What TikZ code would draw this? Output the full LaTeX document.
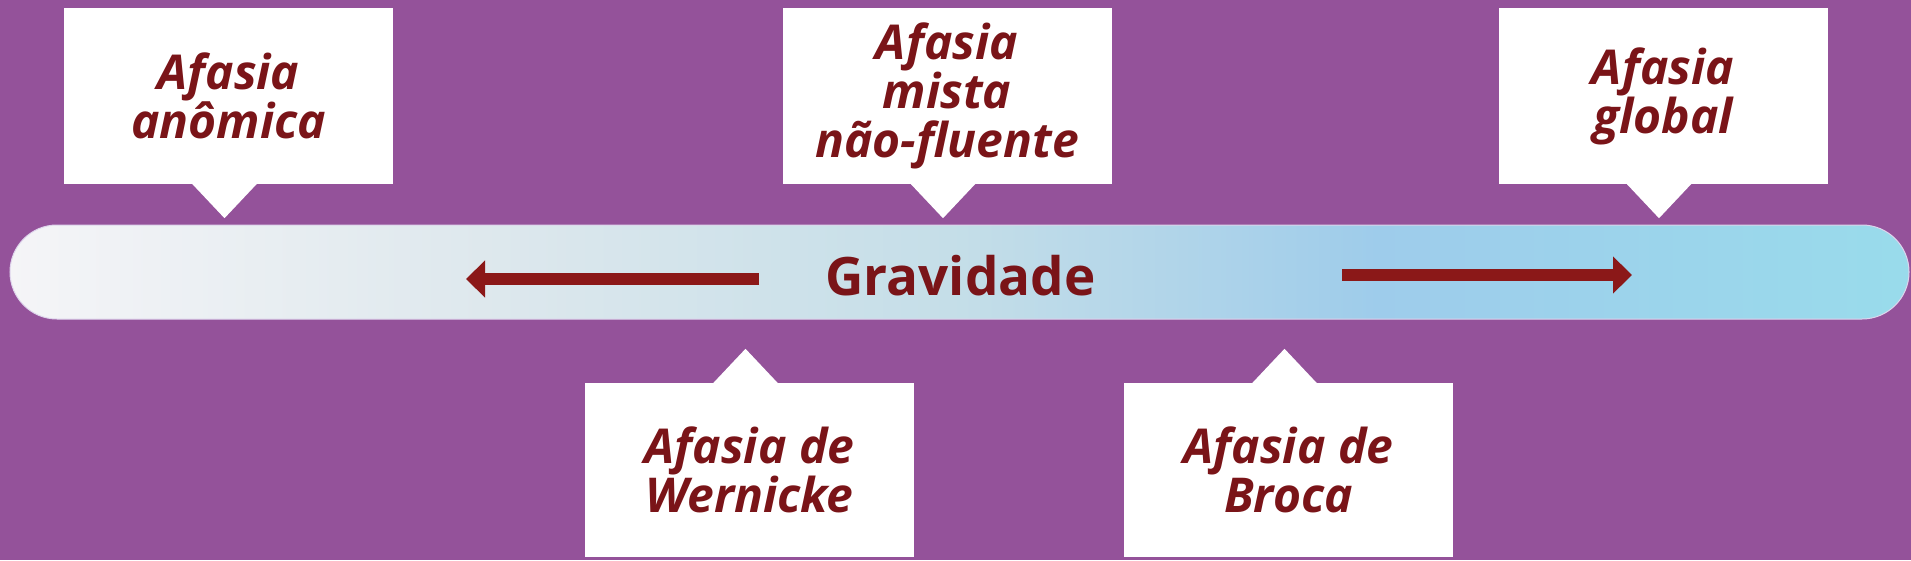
\documentclass[tikz,border=0pt]{standalone}
\usepackage{fontspec}
\setmainfont{Open Sans}
\usepackage{tikz}
\usetikzlibrary{calc,positioning,arrows.meta}
\definecolor{bgpurple}{RGB}{148,82,154}
\definecolor{darkred}{RGB}{122,20,24}
\definecolor{arrowred}{RGB}{139,24,24}
\definecolor{baredge}{RGB}{222,212,236}
\pgfdeclarehorizontalshading{barshade}{100bp}{rgb(0bp)=(.96,.96,.97); rgb(25bp)=(.96,.96,.97); rgb(37.5bp)=(.87,.91,.93); rgb(50bp)=(.77,.87,.91); rgb(61bp)=(.62,.80,.92); rgb(75bp)=(.60,.86,.92); rgb(100bp)=(.60,.86,.92)}
\tikzstyle{callbox} = [rectangle, fill=white, minimum width=329pt, inner sep=0pt, align=center, text=darkred, font=\fontsize{48}{49}\selectfont\bfseries\itshape]
\tikzstyle{arrow}   = [line width=12pt, arrowred, -{Triangle[width=36pt,length=19pt]}]

\begin{document}
\begin{tikzpicture}[x=1pt,y=-1pt]
        \fill[bgpurple] (0,0) rectangle (1911,560);
        \useasboundingbox (0,0) rectangle (1911,560);
        \shade[shading=barshade, rounded corners=47pt] (10,225) rectangle (1909,319);
        \draw[baredge, line width=1pt, rounded corners=47pt] (10,225) rectangle (1909,319);

        \node[callbox, minimum height=176pt] (anom) at (228.5,96) {Afasia\\anômica};
        \node[callbox, minimum height=176pt] (mista) at (947,96) {Afasia\\mista\\não-fluente};
        \node[callbox, minimum height=176pt] (global) at (1663,96) {Afasia\\global};
        \node[callbox, minimum height=174pt] (wern) at (749.5,470) {Afasia de\\Wernicke};
        \node[callbox, minimum height=174pt] (broca) at (1288.5,470) {Afasia de\\Broca};

        % pointers to the bar
        \foreach \n in {anom,mista,global}
            \fill[white] ($(\n.south)+(-37,-1)$) -- ($(\n.south)+(-4,34)$) -- ($(\n.south)+(29,-1)$) -- cycle;
        \foreach \n in {wern,broca}
            \fill[white] ($(\n.north)+(-37,1)$) -- ($(\n.north)+(-4,-34)$) -- ($(\n.north)+(29,1)$) -- cycle;

        \node[anchor=base, text=darkred, font=\fontsize{53}{60}\selectfont\bfseries] (grav) at (960.5,295) {Gravidade};

        \coordinate (lfrom) at (759,279);
        \coordinate (lto) at (466,279);
        \coordinate (rfrom) at (1342,275);
        \coordinate (rto) at (1632,275);
        \draw[arrow] (lfrom) -- (lto);
        \draw[arrow] (rfrom) -- (rto);
    \end{tikzpicture}
\end{document}
